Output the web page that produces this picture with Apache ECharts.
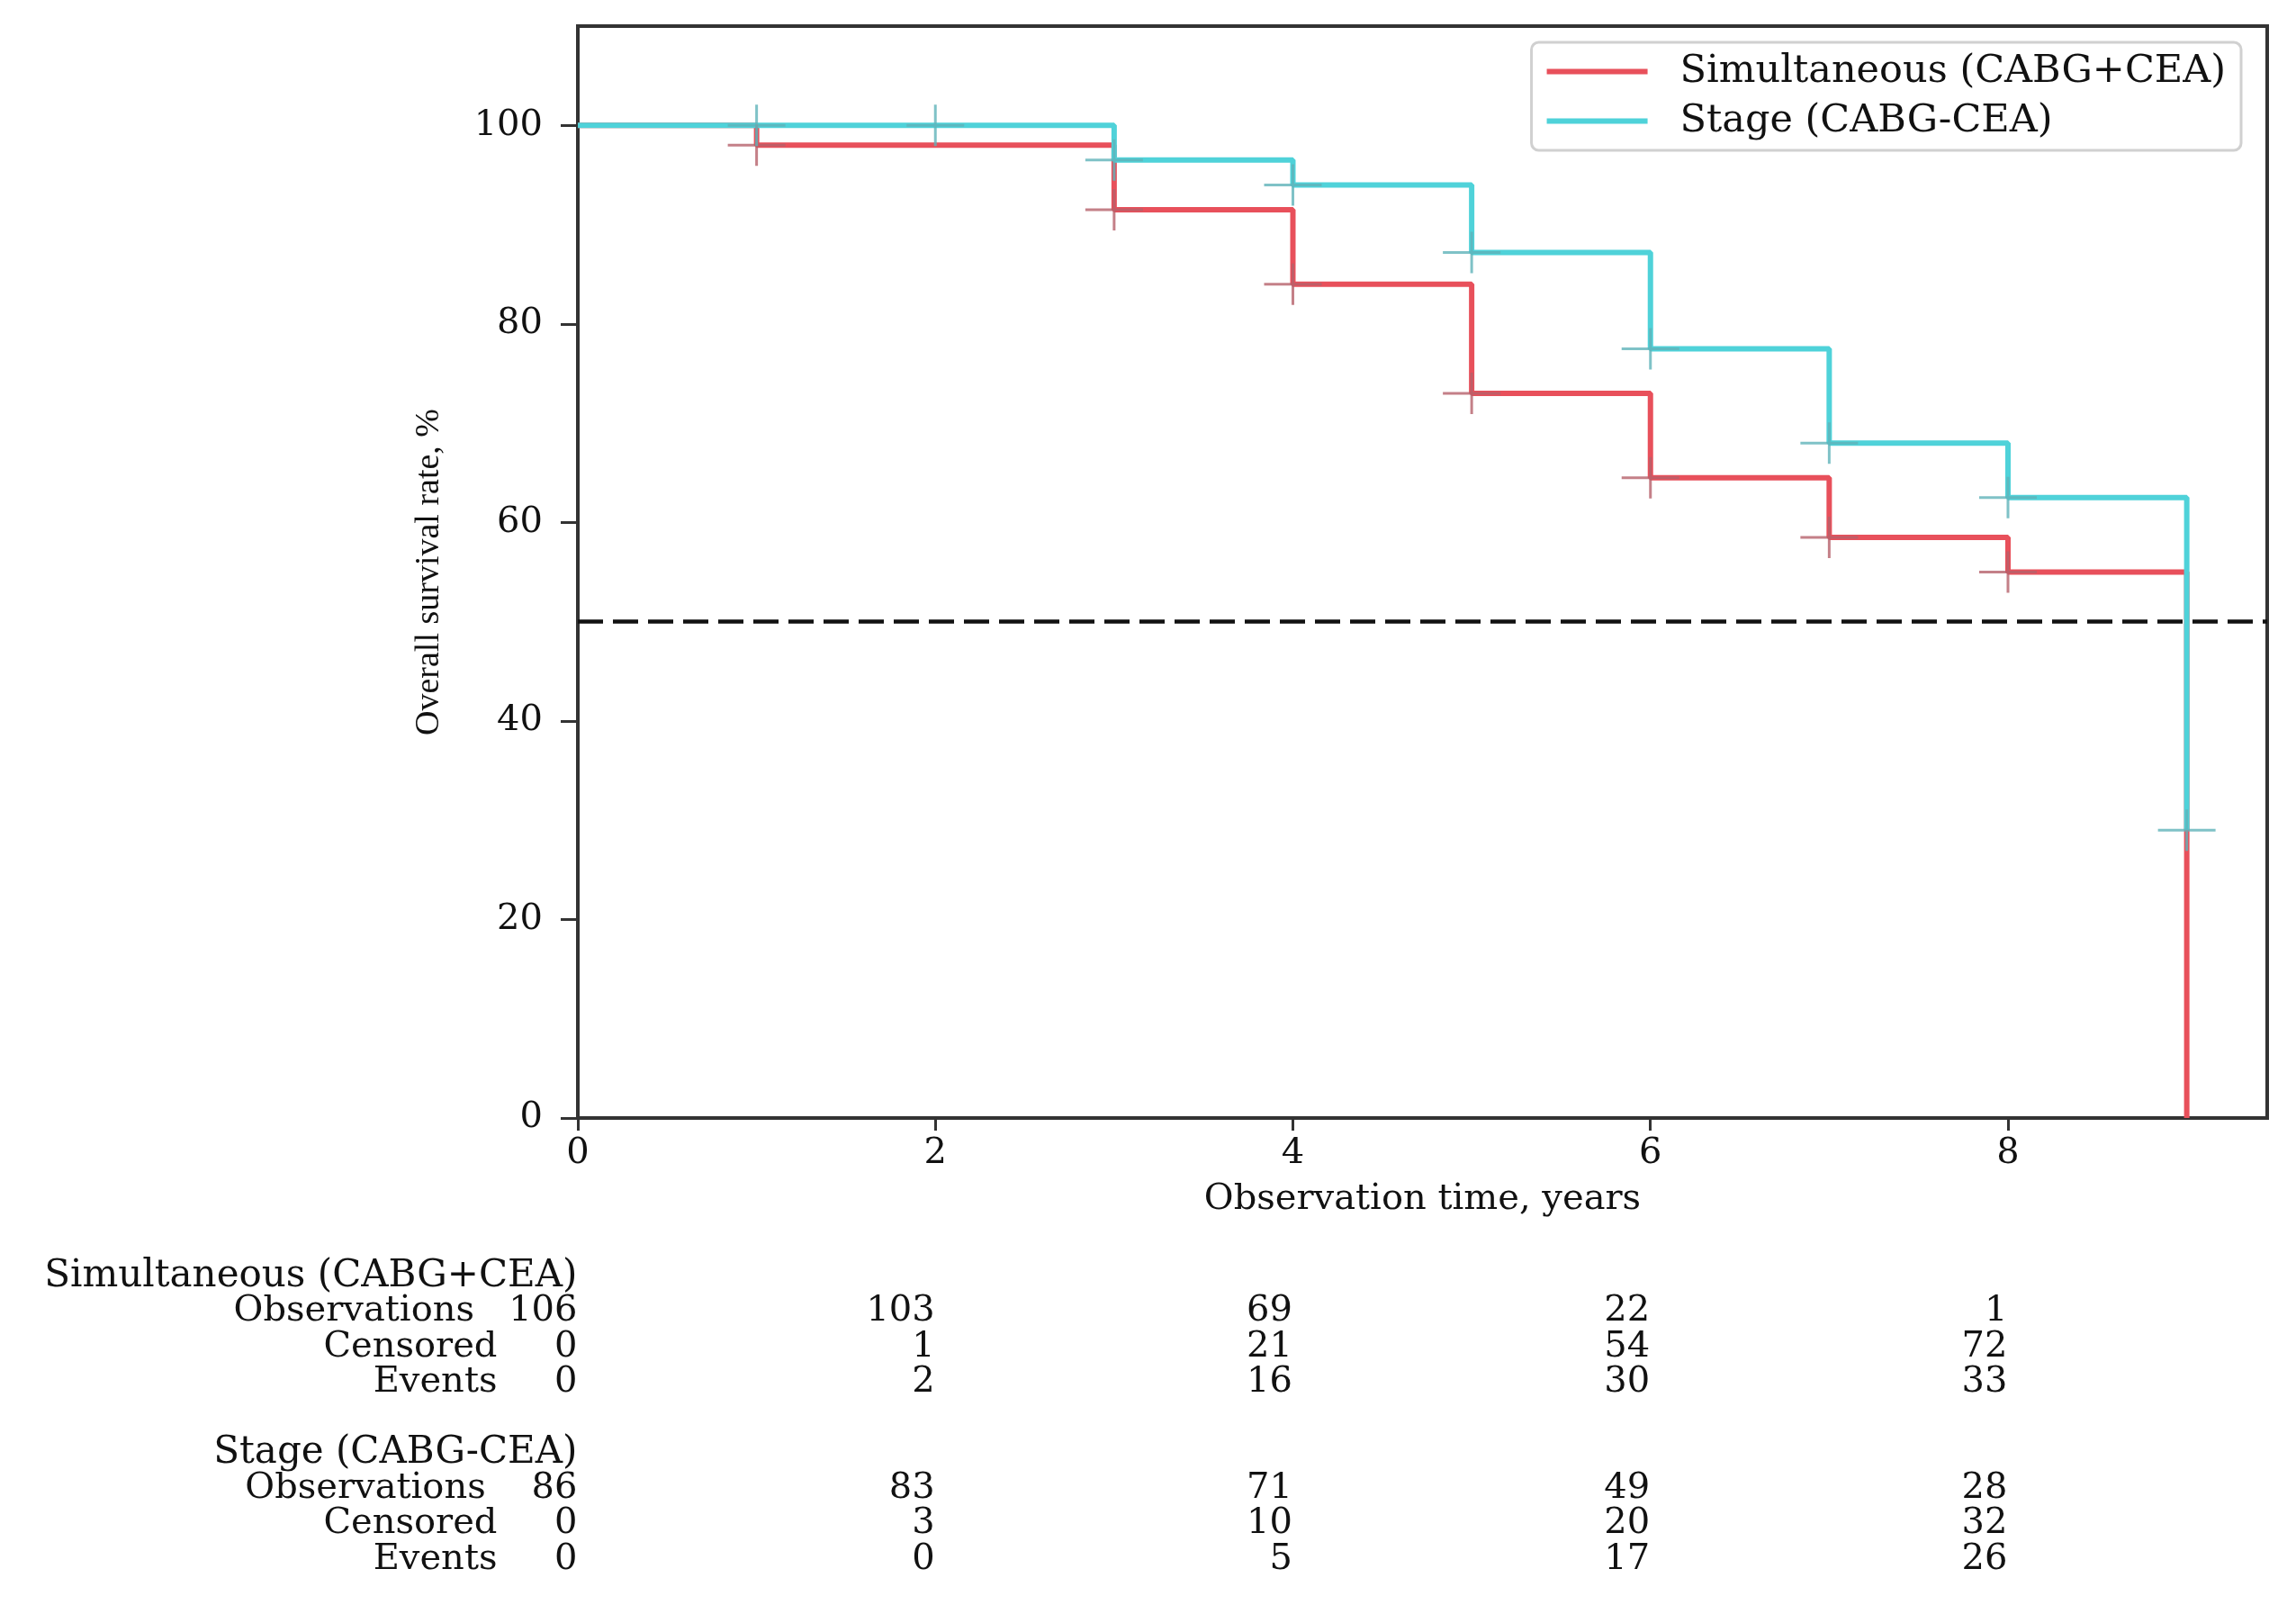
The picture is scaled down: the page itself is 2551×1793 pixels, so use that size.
<!DOCTYPE html>
<html lang="en">
<head>
  <meta charset="UTF-8">
  <title>Overall survival</title>
  <script src="https://cdn.jsdelivr.net/npm/echarts@6/dist/echarts.min.js"></script>
  <style>
    html, body { margin: 0; padding: 0; background: #fff; }
    #chart { width: 2551px; height: 1793px; }
  </style>
</head>
<body>
<div id="chart"></div>
<script>
  // Kaplan-Meier steps, survival in %
  const simTimes = [0, 1, 3, 4, 5, 6, 7, 8, 9];
  const simSurv = [100, 98, 91.5, 84, 73, 64.5, 58.5, 55, 0];
  const stageTimes = [0, 3, 4, 5, 6, 7, 8, 9];
  const stageSurv = [100, 96.5, 94, 87.2, 77.5, 68, 62.5, 29];

  // censoring marks (+)
  const simCensorTimes = [1, 3, 4, 5, 6, 7, 8];
  const simCensorSurv = [98, 91.5, 84, 73, 64.5, 58.5, 55];
  const stageCensorTimes = [1, 2, 3, 4, 5, 6, 7, 8, 9];
  const stageCensorSurv = [100, 100, 96.5, 94, 87.2, 77.5, 68, 62.5, 29];

  const xTicks = [0, 2, 4, 6, 8];
  const yTicks = [0, 20, 40, 60, 80, 100];

  // at risk table
  const simName = 'Simultaneous (CABG+CEA)';
  const stageName = 'Stage (CABG-CEA)';
  const rowNames = ['Observations', 'Censored', 'Events'];
  const simObservations = [106, 103, 69, 22, 1];
  const simCensored = [0, 1, 21, 54, 72];
  const simEvents = [0, 2, 16, 30, 33];
  const stageObservations = [86, 83, 71, 49, 28];
  const stageCensored = [0, 3, 10, 20, 32];
  const stageEvents = [0, 0, 5, 17, 26];

  const red = '#e8505b';
  const cyan = '#4fd2d9';
  const font = "'DejaVu Serif', serif";
  const ink = '#111';
  const plus = 'path://M0,21.5H64V24.5H0Z M30.5,0H33.5V46H30.5Z';

  const zip = (a, b) => a.map((v, i) => [v, b[i]]);

  // table cells: group title row, then 3 count rows
  function tableCells(title, rows, rowStart) {
    const cells = [{ value: [0, rowStart], name: title, label: { fontSize: 42 } }];
    rows.forEach((vals, r) => {
      vals.forEach((v, i) => {
        let text = String(v);
        if (i === 0) text = rowNames[r] + '   ' + text.padStart(3, ' ');
        cells.push({ value: [xTicks[i], rowStart + 1 + r], name: text });
      });
    });
    return cells;
  }
  const cells = tableCells(simName, [simObservations, simCensored, simEvents], 0)
    .concat(tableCells(stageName, [stageObservations, stageCensored, stageEvents], 5));

  const legendText = { fontFamily: font, fontSize: 43, color: ink, padding: [0, 0, 0, 31] };

  const chart = echarts.init(document.getElementById('chart'));
  chart.setOption({
    animation: false,
    backgroundColor: '#fff',
    textStyle: { fontFamily: font, color: ink },
    grid: [
      { left: 642, right: 32, top: 29, bottom: 551, show: true,
        borderColor: '#333', borderWidth: 4, backgroundColor: 'transparent' },
      { left: 642, right: 32, top: 1398, height: 354 }
    ],
    legend: {
      data: [
        { name: simName, icon: 'rect', textStyle: legendText },
        { name: stageName, icon: 'rect', textStyle: legendText }
      ],
      orient: 'vertical',
      right: 61,
      top: 47,
      itemWidth: 112,
      itemHeight: 6,
      itemGap: 12,
      padding: [11, 17, 11, 17],
      borderColor: '#d0d0d0',
      borderWidth: 3,
      borderRadius: 8,
      backgroundColor: 'rgba(255,255,255,0.85)',
      textStyle: legendText
    },
    xAxis: [
      {
        type: 'value', min: 0, max: 9.45,
        name: 'Observation time, years',
        nameLocation: 'middle', nameGap: 71,
        nameTextStyle: { fontFamily: font, fontSize: 40, color: ink },
        axisLine: { show: false },
        splitLine: { show: false },
        axisTick: { customValues: xTicks, length: 14, lineStyle: { color: '#333', width: 3 } },
        axisLabel: { customValues: xTicks, margin: 20, fontFamily: font, fontSize: 40, color: ink }
      },
      { type: 'value', gridIndex: 1, min: 0, max: 9.45, show: false }
    ],
    yAxis: [
      {
        type: 'value', min: 0, max: 110,
        name: 'Overall survival rate, %',
        nameLocation: 'middle', nameGap: 146,
        nameTextStyle: { fontFamily: "'Liberation Serif', serif", fontSize: 38, color: ink },
        axisLine: { show: false },
        splitLine: { show: false },
        axisTick: { customValues: yTicks, length: 19, lineStyle: { color: '#333', width: 3 } },
        axisLabel: { customValues: yTicks, margin: 39, fontFamily: font, fontSize: 40, color: ink }
      },
      {
        type: 'category', gridIndex: 1, inverse: true, show: false,
        data: ['t1', 'o1', 'c1', 'e1', 'gap', 't2', 'o2', 'c2', 'e2']
      }
    ],
    series: [
      {
        name: simName, type: 'line', step: 'end', symbol: 'none',
        data: zip(simTimes, simSurv),
        color: red,
        lineStyle: { color: red, width: 6 },
        z: 2,
        markLine: {
          silent: true,
          symbol: ['none', 'none'],
          label: { show: false },
          lineStyle: { color: '#111', width: 4.5, type: [28, 11] },
          data: [{ yAxis: 50 }]
        }
      },
      {
        name: stageName, type: 'line', step: 'end', symbol: 'none',
        data: zip(stageTimes, stageSurv),
        color: cyan,
        lineStyle: { color: cyan, width: 6 },
        z: 3
      },
      {
        name: simName + ' censored', type: 'scatter',
        data: zip(simCensorTimes, simCensorSurv),
        symbol: plus, symbolSize: [64, 46], symbolKeepAspect: false,
        itemStyle: { color: '#b5606a' },
        z: 4
      },
      {
        name: stageName + ' censored', type: 'scatter',
        data: zip(stageCensorTimes, stageCensorSurv),
        symbol: plus, symbolSize: [64, 46], symbolKeepAspect: false,
        itemStyle: { color: '#5fb3b9' },
        z: 5
      },
      {
        name: 'at risk', type: 'scatter',
        xAxisIndex: 1, yAxisIndex: 1,
        symbolSize: 1,
        itemStyle: { color: '#fff', opacity: 1 },
        data: cells,
        label: {
          show: true, position: 'left', distance: 0,
          formatter: '{b}', opacity: 1,
          fontFamily: font, fontSize: 40, color: ink
        }
      }
    ]
  });
</script>
</body>
</html>
